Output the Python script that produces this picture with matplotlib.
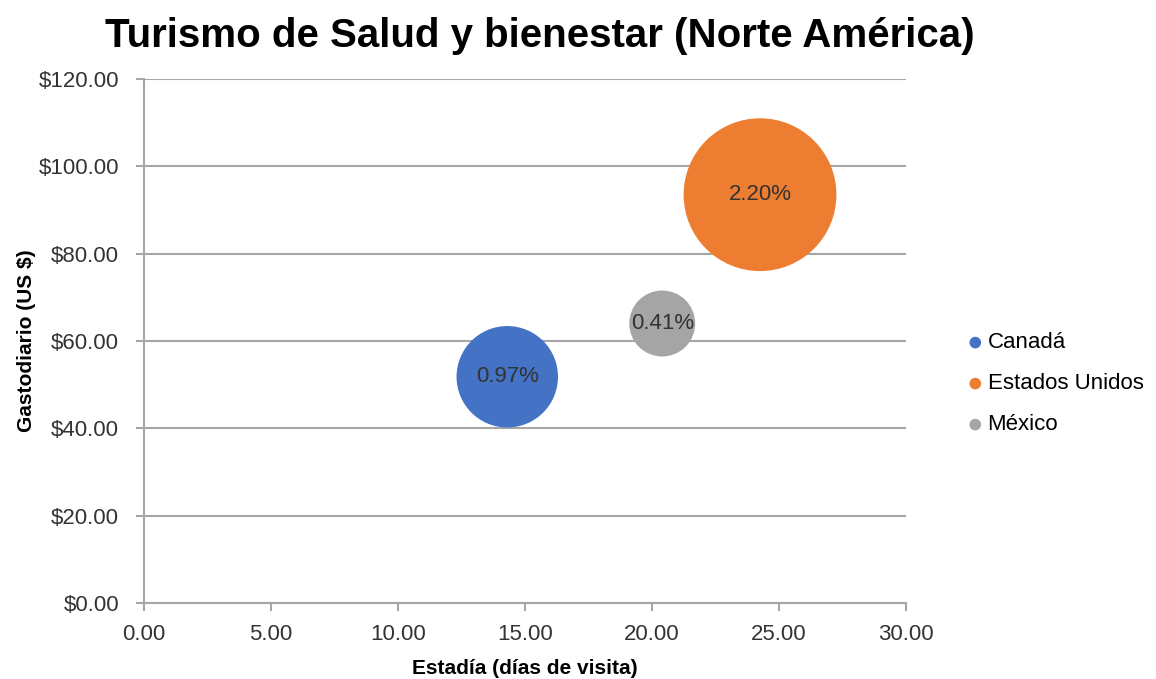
import matplotlib.pyplot as plt
from matplotlib.ticker import FuncFormatter

plt.rcParams['font.family'] = ['Liberation Sans', 'DejaVu Sans']

paises = ['Canadá', 'Estados Unidos', 'México']
estadia = [14.3, 24.25, 20.4]
gasto = [51.8, 93.5, 64.0]
participacion = [0.97, 2.20, 0.41]
colores = ['#4472C4', '#ED7D31', '#A5A5A5']

fig = plt.figure(figsize=(11.56, 6.79), dpi=100)
ax = fig.add_axes([0.1246, 0.112, 0.6592, 0.7717])

escala = 5500
for p, x, y, v, c in zip(paises, estadia, gasto, participacion, colores):
    ax.scatter(x, y, s=v * escala, color=c, label=p, zorder=3, edgecolors='none')
    ax.text(x, y, '%.2f%%' % v, ha='center', va='center', fontsize=16, color='#333333', zorder=4)

ax.set_xlim(0, 30)
ax.set_ylim(0, 120)
ax.set_xticks(range(0, 31, 5))
ax.set_yticks(range(0, 121, 20))
ax.xaxis.set_major_formatter(FuncFormatter(lambda v, _: '%.2f' % v))
ax.yaxis.set_major_formatter(FuncFormatter(lambda v, _: '$%.2f' % v))

ax.grid(axis='y', color='#a6a6a6', linewidth=1.5, zorder=0)
for s in ['top', 'right']:
    ax.spines[s].set_visible(False)
for s in ['left', 'bottom']:
    ax.spines[s].set_color('#a6a6a6')
    ax.spines[s].set_linewidth(1.5)
ax.tick_params(colors='#a6a6a6', labelcolor='#333333', labelsize=16, length=6, width=1.5)
ax.tick_params(axis='y', pad=12)
ax.tick_params(axis='x', pad=9)

ax.set_xlabel('Estadía (días de visita)', fontsize=15, fontweight='bold', labelpad=10)
ax.set_ylabel('Gastodiario (US $)', fontsize=15, fontweight='bold', labelpad=2)
fig.suptitle('Turismo de Salud y bienestar (Norte América)', fontsize=29, fontweight='bold', x=0.467, y=0.975)

leg = ax.legend(loc='center left', bbox_to_anchor=(1.05, 0.418), frameon=False, fontsize=16,
                handletextpad=0.05, labelspacing=0.9, handlelength=1.0)
for h in leg.legend_handles:
    h.set_sizes([70])

fig.savefig('out.png', dpi=100)
